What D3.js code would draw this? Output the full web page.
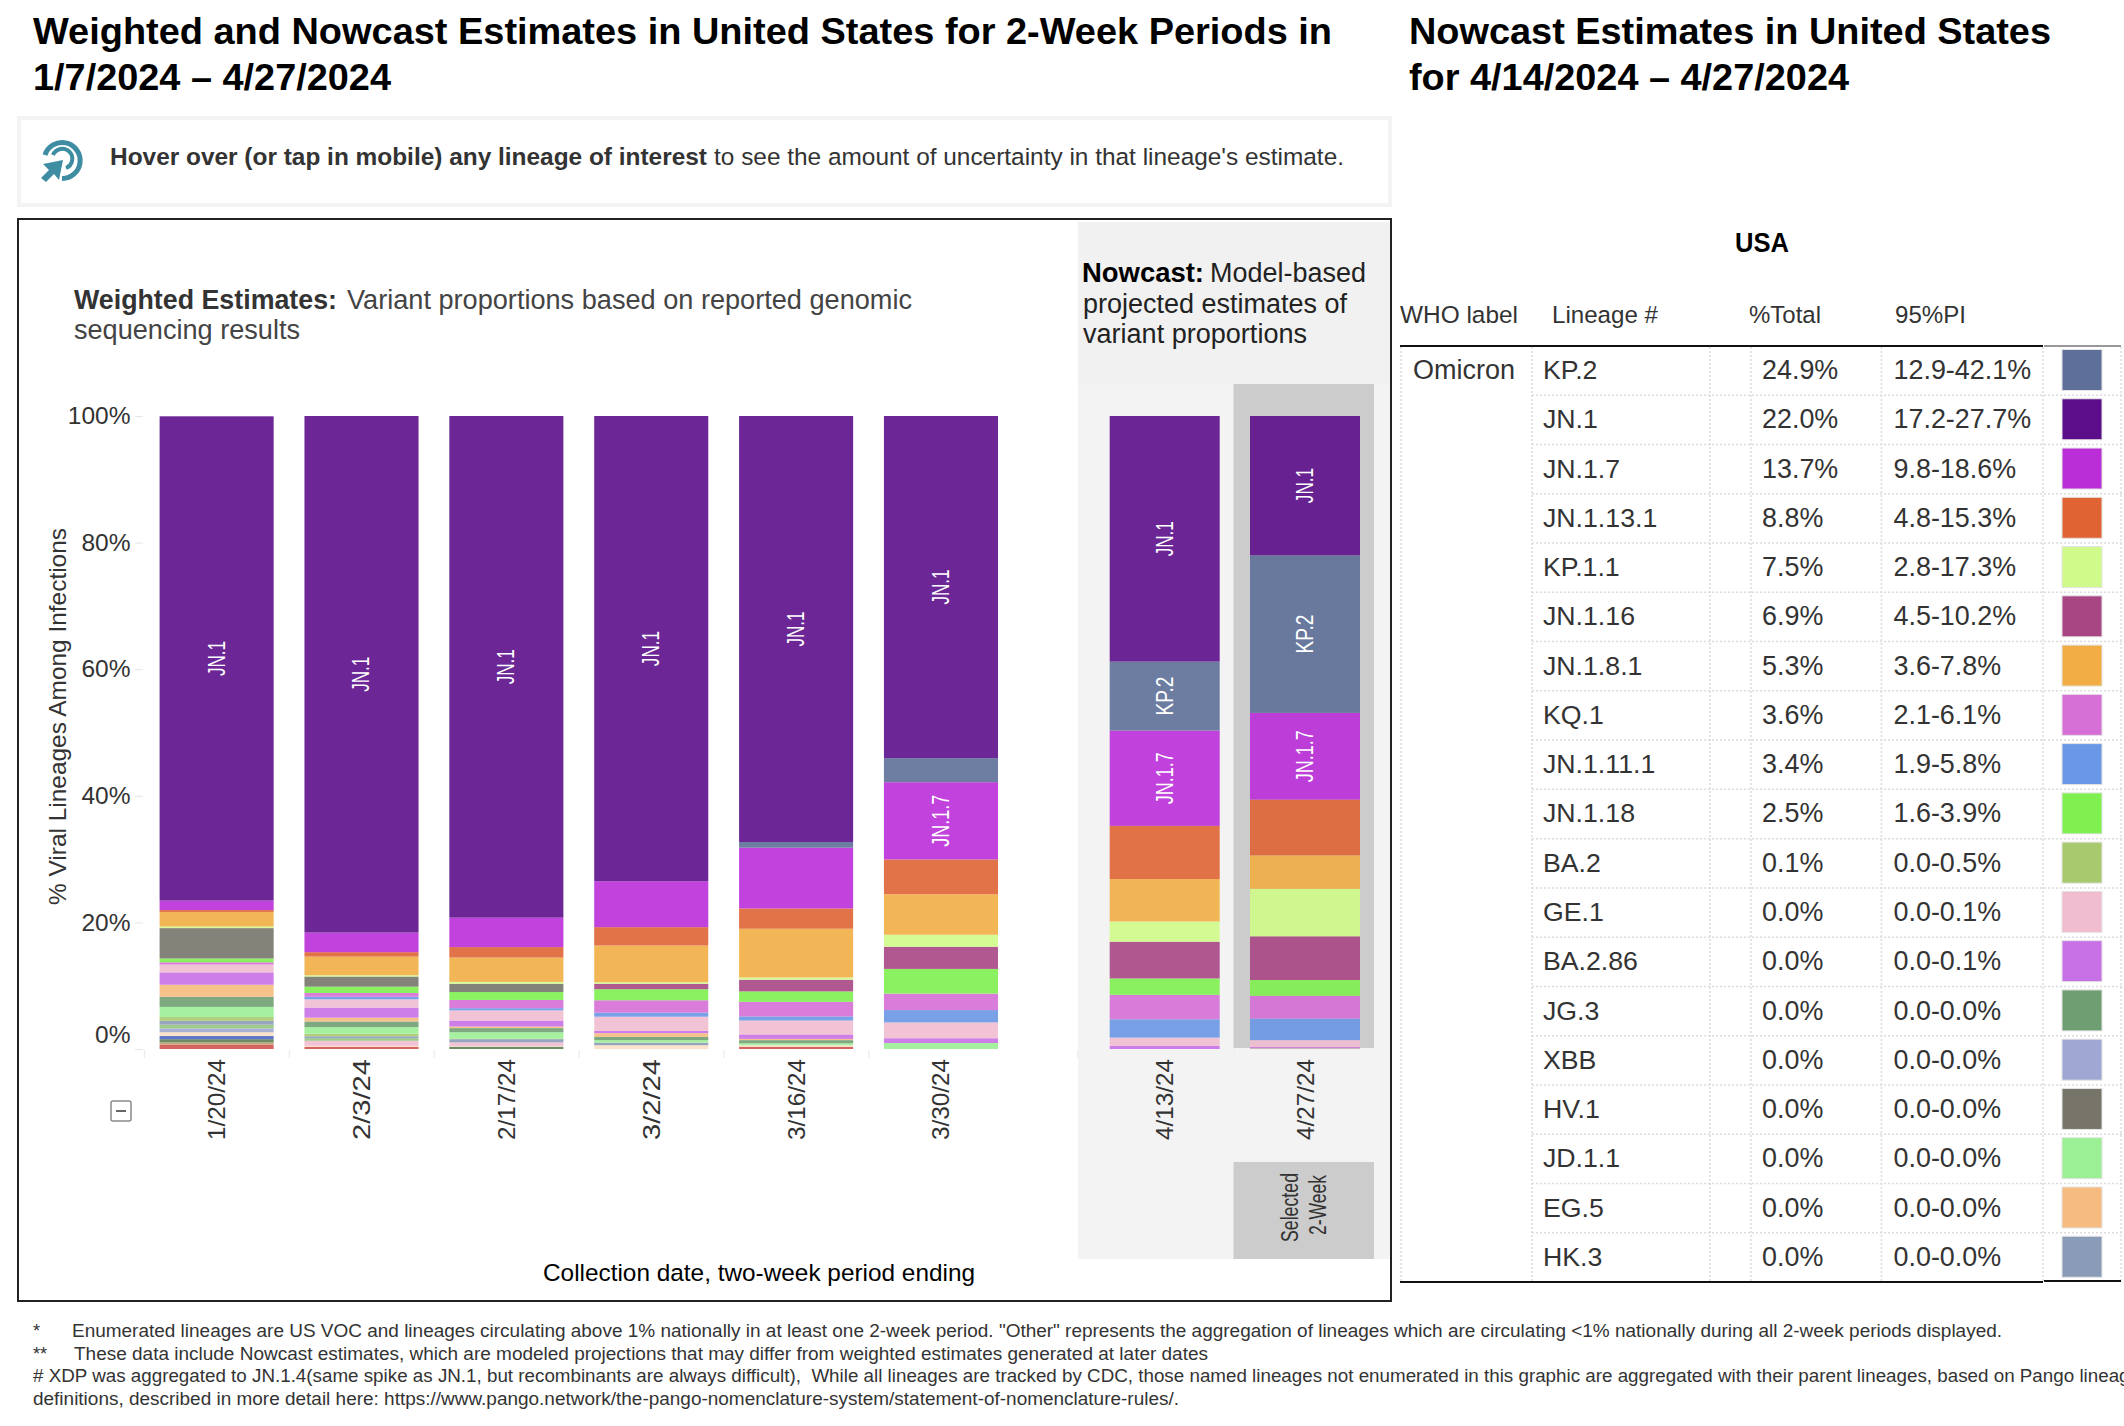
<!DOCTYPE html>
<html><head><meta charset="utf-8">
<script src="https://cdn.jsdelivr.net/npm/d3@7"></script>
<style>html,body{margin:0;padding:0;background:#fff;overflow:hidden}svg{display:block}text{font-family:"Liberation Sans",Arial,sans-serif;white-space:pre}</style>
</head><body><div id="c"></div>
<script>
// ---------- data ----------
const periods = ["1/20/24","2/3/24","2/17/24","3/2/24","3/16/24","3/30/24","4/13/24","4/27/24"];
const weightedPeriods = periods.slice(0,6);
const nowcastPeriods = periods.slice(6);
const yTicks = [0,20,40,60,80,100];
const labelMin = 10;

const JN1      = [76.5,81.6,79.25,73.5,67.3,54.05,38.8,22.0];
const KP2      = [0,0,0,0,0.9,3.8,10.9,24.9];
const JN17     = [1.5,3.1,4.65,7.25,9.6,12.2,15.05,13.7];
const JN1131   = [0.3,0.7,1.65,2.9,3.2,5.5,8.4,8.8];
const JN181    = [2.3,2.95,3.85,5.8,7.7,6.4,6.7,5.3];
const KP11     = [0.25,0.2,0.3,0.25,0.35,1.9,3.2,7.5];
const JN116    = [0,0,0,0.85,1.85,3.5,5.8,6.9];
const HV1      = [4.8,1.6,1.3,0,0,0,0,0];
const JN118    = [0.6,1.0,1.25,1.75,1.65,3.9,2.6,2.5];
const KQ1      = [0.35,0.6,1.3,1.95,2.3,2.6,3.85,3.6];
const JN1111   = [0,0.4,0.35,0.65,0.65,1.95,2.9,3.4];
const GE1      = [1.25,1.3,1.6,2.25,2.2,2.5,1.3,1.1];
const BA286    = [1.95,1.6,0.95,0.35,0.7,0.75,0.5,0.2];
const EG5      = [1.9,0.6,0.25,0.6,0.2,0,0,0];
const JG3      = [1.6,0.9,0.65,0.5,0.5,0,0,0];
const JD11     = [1.6,1.05,1.0,0.4,0.3,0.95,0,0];
const BA2      = [0.6,0.4,0.1,0,0,0,0,0.1];
const HK3      = [0.6,0.3,0.5,0.4,0,0,0,0];
const minorA   = [0.6,0.4,0,0,0,0,0,0];
const XBB      = [0.6,0,0,0,0,0,0,0];
const minorB   = [0,0.8,0.6,0,0,0,0,0];
const minorC   = [0.6,0.15,0.1,0.6,0.25,0,0,0];
const minorD   = [0.5,0,0,0,0,0,0,0];
const minorE   = [0.5,0,0.35,0,0,0,0,0];
const minorF   = [0.35,0,0,0,0,0,0,0];
const minorG   = [0.7,0.35,0,0,0.35,0,0,0];

const lineageNames = ["JN.1","KP.2","JN.1.7","JN.1.13.1","JN.1.8.1","KP.1.1","JN.1.16","HV.1","JN.1.18","KQ.1","JN.1.11.1","GE.1","BA.2.86","EG.5","JG.3","JD.1.1","BA.2","HK.3","minorA","XBB","minorB","minorC","minorD","minorE","minorF","minorG"];
const lineageValues = [JN1,KP2,JN17,JN1131,JN181,KP11,JN116,HV1,JN118,KQ1,JN1111,GE1,BA286,EG5,JG3,JD11,BA2,HK3,minorA,XBB,minorB,minorC,minorD,minorE,minorF,minorG];
const lineageColors = ["#5c0e8a","#5e7099","#ba2ed8","#df6333","#f2ae45","#d0fb8a","#a84684","#77756a","#7ff04f","#d66fd6","#6a97e6","#f0bdd0","#c870e6","#f5bb80","#6f9e72","#9bf095","#a8c96e","#8a9bb8","#93c57e","#9fa7d3","#f0bdd0","#fae0c4","#4a68c4","#5d8052","#c29f6c","#d2544e"];

const tableLineages = ["KP.2","JN.1","JN.1.7","JN.1.13.1","KP.1.1","JN.1.16","JN.1.8.1","KQ.1","JN.1.11.1","JN.1.18","BA.2","GE.1","BA.2.86","JG.3","XBB","HV.1","JD.1.1","EG.5","HK.3"];
const tableTotals = ["24.9%","22.0%","13.7%","8.8%","7.5%","6.9%","5.3%","3.6%","3.4%","2.5%","0.1%","0.0%","0.0%","0.0%","0.0%","0.0%","0.0%","0.0%","0.0%"];
const tablePI = ["12.9-42.1%","17.2-27.7%","9.8-18.6%","4.8-15.3%","2.8-17.3%","4.5-10.2%","3.6-7.8%","2.1-6.1%","1.9-5.8%","1.6-3.9%","0.0-0.5%","0.0-0.1%","0.0-0.1%","0.0-0.0%","0.0-0.0%","0.0-0.0%","0.0-0.0%","0.0-0.0%","0.0-0.0%"];
const tableColumns = ["WHO label","Lineage #","%Total","95%PI"];

const footnotes = [
 ["*","Enumerated lineages are US VOC and lineages circulating above 1% nationally in at least one 2-week period. \"Other\" represents the aggregation of lineages which are circulating <1% nationally during all 2-week periods displayed."],
 ["**","These data include Nowcast estimates, which are modeled projections that may differ from weighted estimates generated at later dates"],
 ["","# XDP was aggregated to JN.1.4(same spike as JN.1, but recombinants are always difficult),  While all lineages are tracked by CDC, those named lineages not enumerated in this graphic are aggregated with their parent lineages, based on Pango lineage"],
 ["","definitions, described in more detail here: https://www.pango.network/the-pango-nomenclature-system/statement-of-nomenclature-rules/."]
];

// ---------- drawing ----------
const W=2124,H=1426;
const svg=d3.select("#c").append("svg").attr("width",W).attr("height",H).attr("viewBox",`0 0 ${W} ${H}`);
function T(x,y,s,o={}){
  const e=svg.append("text").attr("x",x).attr("y",y).text(s)
    .attr("font-size",o.size||24).attr("fill",o.fill||"#000")
    .attr("font-weight",o.weight||"normal").attr("text-anchor",o.anchor||"start");
  if(o.len){e.attr("textLength",o.len).attr("lengthAdjust","spacingAndGlyphs");}
  if(o.rotate){e.attr("transform",`rotate(${o.rotate} ${x} ${y})`);}
  return e;
}
// titles
T(33,44,"Weighted and Nowcast Estimates in United States for 2-Week Periods in",{size:36.5,weight:"bold",len:1299});
T(33,90,"1/7/2024 – 4/27/2024",{size:36.5,weight:"bold",len:358});
T(1409,44,"Nowcast Estimates in United States",{size:36.5,weight:"bold",len:642});
T(1409,90,"for 4/14/2024 – 4/27/2024",{size:36.5,weight:"bold",len:440});

// hover box
svg.append("rect").attr("x",19).attr("y",118).attr("width",1371).attr("height",87).attr("fill","#fff").attr("stroke","#f3f3f3").attr("stroke-width",4);
const icon=svg.append("g").attr("fill","none").attr("stroke","#3f8da3");
icon.append("path").attr("stroke-width",5).attr("d","M45 155 A18 18 0 1 1 62 178.5");
icon.append("path").attr("stroke-width",4).attr("d","M53 155 A10 10 0 1 1 66 168");
svg.append("path").attr("fill","#3f8da3").attr("d","M63 160 L43 164 L49 170 L41 178 L46 182 L54 174 L59 180 Z");
T(110,165,"Hover over (or tap in mobile) any lineage of interest",{size:24.5,weight:"bold",fill:"#333",len:597});
T(714,165,"to see the amount of uncertainty in that lineage's estimate.",{size:24.5,fill:"#333",len:630});

// chart frame + nowcast panel
svg.append("rect").attr("x",1078).attr("y",222).attr("width",312).attr("height",1037).attr("fill","#f1f1f1");
svg.append("rect").attr("x",1078).attr("y",384).attr("width",312).attr("height",875).attr("fill","#f3f3f3");
svg.append("rect").attr("x",18).attr("y",219).attr("width",1373).attr("height",1082).attr("fill","none").attr("stroke","#222").attr("stroke-width",2);

// scales
const y=d3.scaleLinear().domain([0,100]).range([1049,416]);
const xW=d3.scaleBand().domain(weightedPeriods).range([159.6,998]).paddingInner(0.2127);
const xN=d3.scaleBand().domain(nowcastPeriods).range([1109.7,1360]).paddingInner(0.216);
const xOf=p=>weightedPeriods.includes(p)?xW(p):xN(p);
const bw=p=>weightedPeriods.includes(p)?xW.bandwidth():xN.bandwidth();

// selected highlight
svg.append("rect").attr("x",1233.5).attr("y",384).attr("width",140.5).attr("height",664).attr("fill","#cccccc");
svg.append("rect").attr("x",1233.5).attr("y",1162).attr("width",140.5).attr("height",97).attr("fill","#cccccc");

// y axis
const yAxis=d3.axisLeft(y).tickValues(yTicks).tickFormat(d=>d+"%").tickSize(8).tickPadding(7);
const gy=svg.append("g").attr("transform","translate(143,0)").call(yAxis);
gy.select(".domain").remove();
gy.selectAll(".tick line").attr("stroke","#e6e6e6");
gy.selectAll(".tick text").attr("font-size",24.5).attr("fill","#333")
  .attr("dy",d=>d===0?"-0.25em":"0.31em").attr("x",-12.5);
T(66,716.5,"% Viral Lineages Among Infections",{size:24.5,fill:"#333",anchor:"middle",rotate:-90,len:377});

// x axes
function xAxisDraw(scale){
  const g=svg.append("g").attr("transform","translate(0,1059)").call(d3.axisBottom(scale).tickSize(0).tickPadding(0));
  g.select(".domain").remove();
  g.selectAll(".tick text").attr("font-size",24.5).attr("fill","#333")
    .attr("text-anchor","end").attr("dy",0).attr("y",0)
    .attr("textLength",81).attr("lengthAdjust","spacingAndGlyphs")
    .attr("transform","rotate(-90) translate(0,8.5)");
}
xAxisDraw(xW); xAxisDraw(xN);
// faint separators under the bars
const seps=[...weightedPeriods.map(p=>xW(p)-15),xN(nowcastPeriods[0])-32,xN(nowcastPeriods[1])-16];
svg.append("g").selectAll("line").data(seps).join("line")
  .attr("x1",d=>d).attr("x2",d=>d).attr("y1",1050).attr("y2",1058).attr("stroke","#eeeeee").attr("stroke-width",1.5);

// stacks: JN.1 is on top, so the stack runs through the lineages in reverse
const rows=periods.map((p,i)=>{const r={period:p};lineageNames.forEach((n,k)=>r[n]=lineageValues[k][i]);return r;});
const stacked=d3.stack().keys(lineageNames.slice().reverse())(rows);
const colorOf=d3.scaleOrdinal().domain(lineageNames).range(lineageColors);
const gB=svg.append("g");
stacked.forEach(s=>{
  const pts=s.map((d,i)=>({p:periods[i],y0:d[0],y1:d[1],key:s.key})).filter(d=>d.y1>d.y0);
  gB.append("g").selectAll("rect").data(pts).join("rect")
    .attr("x",d=>xOf(d.p)).attr("width",d=>bw(d.p))
    .attr("y",d=>y(d.y1)).attr("height",d=>y(d.y0)-y(d.y1))
    .attr("fill",colorOf(s.key)).attr("fill-opacity",0.9);
});
stacked.forEach(s=>{
  s.forEach((d,i)=>{
    if(d[1]-d[0]>=labelMin){
      const cx=xOf(periods[i])+bw(periods[i])/2;
      const cy=y((d[0]+d[1])/2);
      const lens={"JN.1":35,"KP.2":39,"JN.1.7":52};
      T(cx+8,cy,s.key,{size:23,fill:"#fff",anchor:"middle",rotate:-90,len:lens[s.key]});
    }
  });
});

// headings inside the chart
T(74,309,"Weighted Estimates:",{size:27,weight:"bold",fill:"#333",len:263});
T(347,309,"Variant proportions based on reported genomic",{size:27,fill:"#444",len:565});
T(74,339,"sequencing results",{size:27,fill:"#444",len:226});
T(1082,282,"Nowcast:",{size:27,weight:"bold",len:122});
T(1210,282,"Model-based",{size:27,fill:"#222",len:156});
T(1083,313,"projected estimates of",{size:27,fill:"#222",len:264});
T(1083,343,"variant proportions",{size:27,fill:"#222",len:224});
T(759,1281,"Collection date, two-week period ending",{size:24.5,anchor:"middle",len:432});
// selected label
T(1298,1207.5,"Selected",{size:23,fill:"#333",anchor:"middle",rotate:-90,len:69});
T(1326,1205,"2-Week",{size:23,fill:"#333",anchor:"middle",rotate:-90,len:60});
// collapse box
svg.append("rect").attr("x",111).attr("y",1101).attr("width",20).attr("height",20).attr("fill","#fff").attr("stroke","#8a8a8a").attr("stroke-width",1.5).attr("rx",2);
svg.append("line").attr("x1",116).attr("x2",126).attr("y1",1111).attr("y2",1111).attr("stroke","#666").attr("stroke-width",2);

// table
T(1762,252,"USA",{size:27,weight:"bold",anchor:"middle",len:54});
const headX=[1400,1552,1749,1895],headLen=[118,106,72,71];
tableColumns.forEach((c,i)=>T(headX[i],323,c,{size:24.5,fill:"#333",len:headLen[i]}));
const rowY=d3.scaleBand().domain(tableLineages).range([346,1282]);
const gT=svg.append("g");
const dots={stroke:"#dcdcdc","stroke-width":1.5,"stroke-dasharray":"2 2"};
function dotted(x1,y1,x2,y2){const l=gT.append("line").attr("x1",x1).attr("y1",y1).attr("x2",x2).attr("y2",y2);Object.entries(dots).forEach(([k,v])=>l.attr(k,v));}
tableLineages.forEach((n,i)=>{
  if(i>0){dotted(1532,rowY(n),2123,rowY(n));}
  T(1543,rowY(n)+33.1,n,{size:26.7,fill:"#333"});
  T(1762,rowY(n)+33.1,tableTotals[i],{size:26.9,fill:"#333"});
  T(1893.5,rowY(n)+33.1,tablePI[i],{size:26.9,fill:"#333"});
  gT.append("rect").attr("x",2062).attr("y",rowY(n)+3.5).attr("width",40).attr("height",41).attr("fill",colorOf(n)).attr("stroke","#e4e4e4").attr("stroke-width",1);
});
[1401,1532,1710,1751,1881.5,2043,2121].forEach(x=>dotted(x,347,x,1281));
T(1413,379,"Omicron",{size:27,fill:"#333"});
svg.append("line").attr("x1",1400).attr("x2",2043).attr("y1",346).attr("y2",346).attr("stroke","#111").attr("stroke-width",2);
svg.append("line").attr("x1",1400).attr("x2",2043).attr("y1",1282).attr("y2",1282).attr("stroke","#111").attr("stroke-width",2.2);
svg.append("line").attr("x1",2044).attr("x2",2121).attr("y1",346).attr("y2",346).attr("stroke","#333").attr("stroke-width",1);
svg.append("line").attr("x1",2044).attr("x2",2121).attr("y1",1281).attr("y2",1281).attr("stroke","#111").attr("stroke-width",1.8);

// footnotes
const fy=[1337,1360,1382,1405],fx=[72,74,33,33],flen=[1930,1134,2107,1146];
footnotes.forEach((f,i)=>{
  if(f[0])T(33,fy[i],f[0],{size:18.3,fill:"#333"});
  T(fx[i],fy[i],f[1],{size:18.3,fill:"#333",len:flen[i]});
});
</script></body></html>
